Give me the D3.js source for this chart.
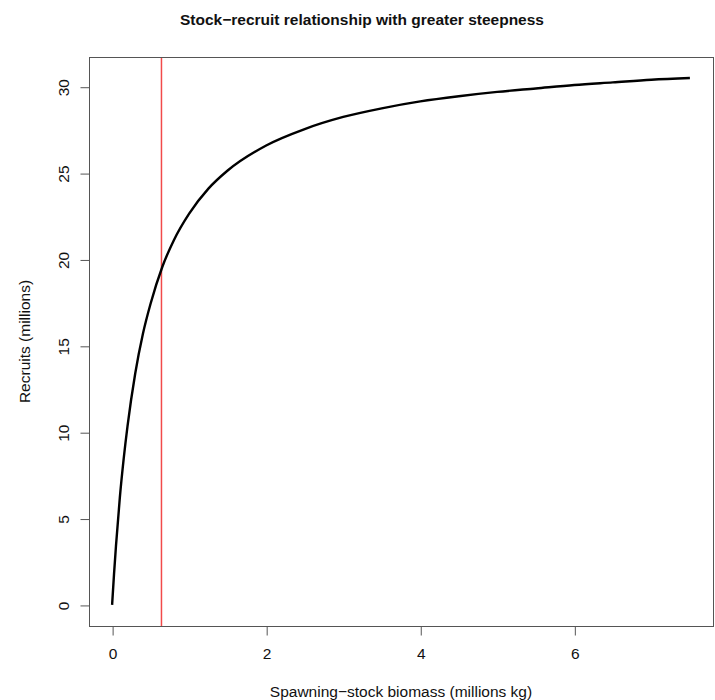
<!DOCTYPE html>
<html>
<head>
<meta charset="utf-8">
<script src="https://cdn.jsdelivr.net/npm/d3@7"></script>
<style>
  html, body { margin: 0; padding: 0; background: #fff; }
  svg { display: block; font-family: "Liberation Sans", Arial, Helvetica, sans-serif; }
</style>
</head>
<body>
<svg id="chart" width="715" height="700"></svg>
<script>
// Values
const stock = [0, 0.025, 0.05, 0.1, 0.15, 0.2, 0.3, 0.4, 0.5, 0.65, 0.8, 1.0, 1.25, 1.5,
  2.0, 2.5, 3.0, 3.5, 4.0, 4.5, 5.0, 5.5, 6.0, 6.5, 7.0, 7.5];
const recruits = [0, 1.8, 3.4, 6.2, 8.45, 10.35, 13.4, 15.7, 17.45, 19.55, 21.1, 22.65, 24.1, 25.15,
  26.6, 27.55, 28.25, 28.75, 29.15, 29.45, 29.7, 29.9, 30.1, 30.25, 30.4, 30.5];
const refStock = 0.64;   // vertical reference line
const xTicks = [0, 2, 4, 6];
const yTicks = [0, 5, 10, 15, 20, 25, 30];

const titleText = 'Stock\u2212recruit relationship with greater steepness';
const xLabel = 'Spawning\u2212stock biomass (millions kg)';
const yLabel = 'Recruits (millions)';

const svg = d3.select('#chart');
const box = { left: 89, right: 713, top: 57, bottom: 626 };

// R-style 4% padding on the data range
const xMin = 0, xMax = d3.max(stock);
const yMin = 0, yMax = d3.max(recruits);
const xPad = (xMax - xMin) * 0.04, yPad = (yMax - yMin) * 0.04;

const x = d3.scaleLinear().domain([xMin - xPad, xMax + xPad]).range([box.left, box.right]);
const y = d3.scaleLinear().domain([yMin - yPad, yMax + yPad]).range([box.bottom, box.top]);

const axisColor = '#555';
const fontSize = '15.5px';

// Title
svg.append('text')
  .attr('x', 362)
  .attr('y', 25)
  .attr('text-anchor', 'middle')
  .style('font-size', '15.5px')
  .style('font-weight', 'bold')
  .style('fill', '#111')
  .text(titleText);

// Red reference line (drawn as a thin rect so the colour stays solid)
svg.append('rect')
  .attr('class', 'ref-line')
  .attr('x', x(refStock) - 0.7)
  .attr('y', box.top)
  .attr('width', 1.5)
  .attr('height', box.bottom - box.top)
  .attr('fill', '#f24a4a');

// Curve
const line = d3.line()
  .x((d, i) => x(stock[i]))
  .y(d => y(d))
  .curve(d3.curveMonotoneX);

svg.append('path')
  .datum(recruits)
  .attr('d', line)
  .attr('fill', 'none')
  .attr('stroke', '#000')
  .attr('stroke-width', 2.4)
  .attr('stroke-linejoin', 'round');

// Plot frame
svg.append('rect')
  .attr('x', box.left + 0.5)
  .attr('y', box.top + 0.5)
  .attr('width', box.right - box.left)
  .attr('height', box.bottom - box.top)
  .attr('fill', 'none')
  .attr('stroke', axisColor)
  .attr('stroke-width', 1);

// X axis
const xAxis = d3.axisBottom(x)
  .tickValues(xTicks)
  .tickSize(9)
  .tickPadding(12)
  .tickFormat(d3.format('d'));

const gx = svg.append('g')
  .attr('transform', `translate(0.5,${box.bottom + 0.5})`)
  .call(xAxis);
gx.select('.domain')
  .attr('d', `M${x(xTicks[0])},0H${x(xTicks[xTicks.length - 1])}`)
  .attr('stroke', axisColor);
gx.selectAll('.tick line').attr('stroke', axisColor);
gx.selectAll('.tick text')
  .style('font-size', fontSize)
  .style('font-family', '"Liberation Sans", Arial, sans-serif')
  .attr('fill', '#111');

// Y axis (labels rotated, as in base R)
const yAxis = d3.axisLeft(y)
  .tickValues(yTicks)
  .tickSize(9)
  .tickFormat(d3.format('d'));

const gy = svg.append('g')
  .attr('transform', `translate(${box.left + 0.5},0.5)`)
  .call(yAxis);
gy.select('.domain')
  .attr('d', `M0,${y(yTicks[0])}V${y(yTicks[yTicks.length - 1])}`)
  .attr('stroke', axisColor);
gy.selectAll('.tick line').attr('stroke', axisColor);
gy.selectAll('.tick text')
  .attr('x', 0)
  .attr('dy', 0)
  .attr('text-anchor', 'middle')
  .attr('transform', 'translate(-21,0) rotate(-90)')
  .style('font-size', fontSize)
  .style('font-family', '"Liberation Sans", Arial, sans-serif')
  .attr('fill', '#111');

// Axis titles
svg.append('text')
  .attr('x', (box.left + box.right) / 2)
  .attr('y', 697)
  .attr('text-anchor', 'middle')
  .style('font-size', fontSize)
  .style('fill', '#111')
  .text(xLabel);

svg.append('text')
  .attr('transform', `translate(30,${(box.top + box.bottom) / 2}) rotate(-90)`)
  .attr('text-anchor', 'middle')
  .style('font-size', fontSize)
  .style('fill', '#111')
  .text(yLabel);
</script>
</body>
</html>
